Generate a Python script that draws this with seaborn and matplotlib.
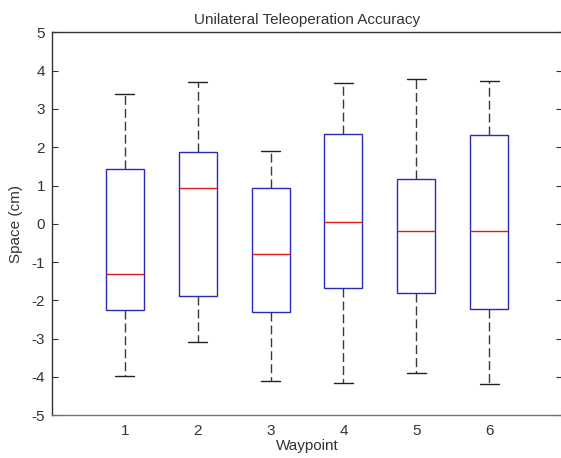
import numpy as np
import pandas as pd
import matplotlib
matplotlib.use("Agg")
import matplotlib.pyplot as plt
import seaborn as sns

# Values
waypoints = [1, 2, 3, 4, 5, 6]
lower_whisker = [-3.98, -3.09, -4.10, -4.15, -3.89, -4.17]
q1 = [-2.25, -1.89, -2.29, -1.68, -1.81, -2.22]
median = [-1.30, 0.93, -0.79, 0.06, -0.18, -0.18]
q3 = [1.44, 1.87, 0.93, 2.34, 1.18, 2.31]
upper_whisker = [3.40, 3.69, 1.91, 3.67, 3.79, 3.72]
yticks = [-5, -4, -3, -2, -1, 0, 1, 2, 3, 4, 5]

# Five summary values per waypoint -> percentiles 0/25/50/75/100 reproduce the box
rows = []
for i, w in enumerate(waypoints):
    for v in (lower_whisker[i], q1[i], median[i], q3[i], upper_whisker[i]):
        rows.append({"Waypoint": w, "Space": v})
df = pd.DataFrame(rows)

sns.set_theme(style="white")
plt.rcParams["font.family"] = ["Liberation Sans", "DejaVu Sans"]
plt.rcParams["font.size"] = 11

fig = plt.figure(figsize=(5.61, 4.58), dpi=100, facecolor="white")
ax = fig.add_axes([52 / 561, 1 - 415.3 / 458, 510 / 561, (415.3 - 32.3) / 458])

blue = "#2a2ab8"
sns.boxplot(
    data=df, x="Waypoint", y="Space", native_scale=True, whis=(0, 100),
    width=0.52, ax=ax, color="white", linewidth=1.0,
    boxprops=dict(facecolor="white", edgecolor=blue, linewidth=1.0),
    medianprops=dict(color="#e01818", linewidth=1.0),
    whiskerprops=dict(color="#3a3a3a", linestyle=(0, (6.5, 2.8)), linewidth=1.0),
    capprops=dict(color="#222222", linewidth=1.0),
)

txt = "#333333"
ax.set_xlim(0, 7)
ax.set_ylim(-5, 5)
ax.set_xticks(waypoints)
ax.set_xticklabels([str(w) for w in waypoints], fontsize=11, color=txt)
ax.set_yticks(yticks)
ax.set_yticklabels([str(t) for t in yticks], fontsize=11, color=txt)
ax.tick_params(axis="x", length=0, pad=6)
ax.tick_params(axis="y", direction="in", left=True, right=True, length=4.5,
               width=0.8, color="#333333", pad=5)
for s in ax.spines.values():
    s.set_visible(True)
    s.set_color("#333333")
    s.set_linewidth(1.0)
ax.spines["bottom"].set_color("#707070")

ax.set_title("Unilateral Teleoperation Accuracy", fontsize=11, pad=6, color=txt)
ax.set_xlabel("Waypoint", fontsize=11, labelpad=1, color=txt)
ax.set_ylabel("Space (cm)", fontsize=11, labelpad=6, color=txt)

fig.savefig("out.png", dpi=100, facecolor="white")
